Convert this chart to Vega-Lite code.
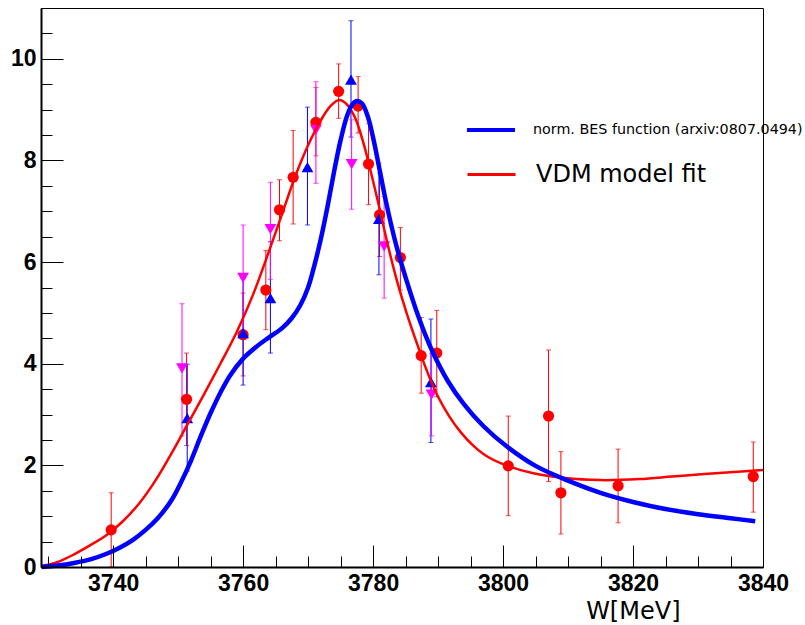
{
  "$schema": "https://vega.github.io/schema/vega-lite/v6.json",
  "width": 722,
  "height": 559,
  "autosize": {"type": "none"},
  "padding": {"left": 41, "top": 8, "right": 42, "bottom": 58},
  "background": "white",
  "config": {
    "view": {"stroke": "black", "strokeWidth": 1},
    "axis": {"grid": false, "labelFont": "Liberation Sans", "labelFontWeight": "bold", "labelFontSize": 23, "labelColor": "black", "tickColor": "black", "domainColor": "black"}
  },
  "datasets": {
    "red": [
      {"x": 3739.7, "y": 0.73, "lo": 0.0, "hi": 1.46},
      {"x": 3751.3, "y": 3.30, "lo": 2.39, "hi": 4.21},
      {"x": 3760.0, "y": 4.57, "lo": 3.76, "hi": 5.39},
      {"x": 3763.5, "y": 5.45, "lo": 4.67, "hi": 6.23},
      {"x": 3765.6, "y": 7.03, "lo": 6.42, "hi": 7.62},
      {"x": 3767.7, "y": 7.67, "lo": 6.75, "hi": 8.59},
      {"x": 3771.2, "y": 8.75, "lo": 8.09, "hi": 9.44},
      {"x": 3774.7, "y": 9.36, "lo": 8.83, "hi": 9.90},
      {"x": 3777.7, "y": 9.07, "lo": 8.54, "hi": 9.65},
      {"x": 3779.3, "y": 7.93, "lo": 7.13, "hi": 8.72},
      {"x": 3781.0, "y": 6.93, "lo": 6.11, "hi": 7.75},
      {"x": 3784.2, "y": 6.09, "lo": 5.45, "hi": 6.68},
      {"x": 3787.4, "y": 4.16, "lo": 3.42, "hi": 4.91},
      {"x": 3789.8, "y": 4.21, "lo": 3.35, "hi": 5.05},
      {"x": 3800.8, "y": 1.99, "lo": 1.01, "hi": 2.97},
      {"x": 3807.0, "y": 2.97, "lo": 1.68, "hi": 4.27},
      {"x": 3808.9, "y": 1.46, "lo": 0.65, "hi": 2.27},
      {"x": 3817.7, "y": 1.60, "lo": 0.87, "hi": 2.32},
      {"x": 3838.5, "y": 1.78, "lo": 1.08, "hi": 2.46}
    ],
    "blue": [
      {"x": 3751.4, "y": 2.93, "lo": 1.89, "hi": 3.99},
      {"x": 3760.0, "y": 4.60, "lo": 3.58, "hi": 5.68},
      {"x": 3764.2, "y": 5.29, "lo": 4.21, "hi": 6.40},
      {"x": 3769.9, "y": 7.87, "lo": 6.73, "hi": 9.05},
      {"x": 3776.6, "y": 9.59, "lo": 8.46, "hi": 10.75},
      {"x": 3780.9, "y": 6.85, "lo": 5.75, "hi": 7.95},
      {"x": 3788.9, "y": 3.64, "lo": 2.45, "hi": 4.88}
    ],
    "magenta": [
      {"x": 3750.6, "y": 3.91, "lo": 2.58, "hi": 5.18},
      {"x": 3760.0, "y": 5.69, "lo": 4.67, "hi": 6.73},
      {"x": 3764.2, "y": 6.65, "lo": 5.66, "hi": 7.57},
      {"x": 3771.2, "y": 8.60, "lo": 7.55, "hi": 9.55},
      {"x": 3776.7, "y": 7.93, "lo": 7.04, "hi": 8.80},
      {"x": 3781.7, "y": 6.31, "lo": 5.29, "hi": 7.29},
      {"x": 3789.0, "y": 3.39, "lo": 2.58, "hi": 4.20}
    ],
    "bes": [
      {"x": 3729.0, "y": 0.00}, {"x": 3731.5, "y": 0.03}, {"x": 3734.0, "y": 0.08}, {"x": 3736.5, "y": 0.15},
      {"x": 3739.0, "y": 0.26}, {"x": 3741.0, "y": 0.38}, {"x": 3743.0, "y": 0.53}, {"x": 3745.0, "y": 0.73},
      {"x": 3747.0, "y": 0.98}, {"x": 3749.0, "y": 1.32}, {"x": 3750.5, "y": 1.68}, {"x": 3752.0, "y": 2.10},
      {"x": 3753.5, "y": 2.58}, {"x": 3755.0, "y": 3.03}, {"x": 3756.5, "y": 3.43}, {"x": 3758.0, "y": 3.77},
      {"x": 3760.0, "y": 4.10}, {"x": 3762.0, "y": 4.33}, {"x": 3764.0, "y": 4.52}, {"x": 3766.0, "y": 4.70},
      {"x": 3767.5, "y": 4.90}, {"x": 3768.8, "y": 5.15}, {"x": 3770.0, "y": 5.50}, {"x": 3771.0, "y": 5.95},
      {"x": 3772.0, "y": 6.48}, {"x": 3773.0, "y": 7.10}, {"x": 3774.0, "y": 7.78}, {"x": 3775.0, "y": 8.40},
      {"x": 3776.0, "y": 8.88}, {"x": 3776.8, "y": 9.10}, {"x": 3777.5, "y": 9.17}, {"x": 3778.3, "y": 9.12},
      {"x": 3779.2, "y": 8.86}, {"x": 3780.0, "y": 8.45}, {"x": 3781.0, "y": 7.82}, {"x": 3782.0, "y": 7.18},
      {"x": 3783.5, "y": 6.36}, {"x": 3785.0, "y": 5.70}, {"x": 3787.0, "y": 4.92}, {"x": 3789.0, "y": 4.28},
      {"x": 3791.5, "y": 3.66}, {"x": 3794.0, "y": 3.20}, {"x": 3797.0, "y": 2.77}, {"x": 3800.5, "y": 2.38},
      {"x": 3805.0, "y": 1.99}, {"x": 3810.0, "y": 1.70}, {"x": 3815.0, "y": 1.46}, {"x": 3820.0, "y": 1.28},
      {"x": 3825.0, "y": 1.14}, {"x": 3830.0, "y": 1.04}, {"x": 3835.0, "y": 0.96}, {"x": 3838.8, "y": 0.90}
    ],
    "vdm": [
      {"x": 3729.0, "y": 0.02}, {"x": 3731.5, "y": 0.10}, {"x": 3734.0, "y": 0.25}, {"x": 3736.5, "y": 0.43},
      {"x": 3739.0, "y": 0.63}, {"x": 3741.5, "y": 0.90}, {"x": 3744.0, "y": 1.25}, {"x": 3746.5, "y": 1.70},
      {"x": 3749.0, "y": 2.24}, {"x": 3751.5, "y": 2.82}, {"x": 3754.0, "y": 3.40}, {"x": 3756.5, "y": 4.00},
      {"x": 3759.0, "y": 4.62}, {"x": 3761.5, "y": 5.35}, {"x": 3764.0, "y": 6.22}, {"x": 3766.0, "y": 6.95},
      {"x": 3768.0, "y": 7.68}, {"x": 3770.0, "y": 8.30}, {"x": 3772.0, "y": 8.80}, {"x": 3773.5, "y": 9.08},
      {"x": 3774.8, "y": 9.19}, {"x": 3776.0, "y": 9.10}, {"x": 3777.3, "y": 8.82}, {"x": 3778.5, "y": 8.35},
      {"x": 3779.8, "y": 7.70}, {"x": 3781.0, "y": 7.05}, {"x": 3782.3, "y": 6.32}, {"x": 3783.7, "y": 5.62},
      {"x": 3785.2, "y": 4.98}, {"x": 3786.8, "y": 4.38}, {"x": 3788.4, "y": 3.82}, {"x": 3790.0, "y": 3.35},
      {"x": 3791.7, "y": 2.97}, {"x": 3793.5, "y": 2.65}, {"x": 3795.5, "y": 2.38}, {"x": 3797.5, "y": 2.18},
      {"x": 3800.5, "y": 2.00}, {"x": 3804.5, "y": 1.85}, {"x": 3809.5, "y": 1.75}, {"x": 3815.0, "y": 1.71},
      {"x": 3821.0, "y": 1.73}, {"x": 3826.0, "y": 1.78}, {"x": 3831.0, "y": 1.83}, {"x": 3840.0, "y": 1.91}
    ]
  },
  "layer": [
    {
      "data": {"name": "red"},
      "mark": {"type": "errorbar", "color": "#ff0000", "thickness": 1, "ticks": {"size": 5, "thickness": 1}},
      "encoding": {
        "x": {"field": "x", "type": "quantitative", "scale": {"domain": [3728.9, 3840], "nice": false, "zero": false}, "axis": null},
        "y": {"field": "lo", "type": "quantitative", "scale": {"domain": [0, 11], "nice": false}, "axis": null, "title": null},
        "y2": {"field": "hi"}
      }
    },
    {
      "data": {"name": "blue"},
      "mark": {"type": "errorbar", "color": "#0000ff", "thickness": 1, "ticks": {"size": 5, "thickness": 1}},
      "encoding": {
        "x": {"field": "x", "type": "quantitative", "scale": {"domain": [3728.9, 3840], "nice": false, "zero": false}, "axis": null},
        "y": {"field": "lo", "type": "quantitative", "scale": {"domain": [0, 11], "nice": false}, "axis": null, "title": null},
        "y2": {"field": "hi"}
      }
    },
    {
      "data": {"name": "magenta"},
      "mark": {"type": "errorbar", "color": "#ff00ff", "thickness": 1, "ticks": {"size": 5, "thickness": 1}},
      "encoding": {
        "x": {"field": "x", "type": "quantitative", "scale": {"domain": [3728.9, 3840], "nice": false, "zero": false}, "axis": null},
        "y": {"field": "lo", "type": "quantitative", "scale": {"domain": [0, 11], "nice": false}, "axis": null, "title": null},
        "y2": {"field": "hi"}
      }
    },
    {
      "data": {"name": "red"},
      "mark": {"type": "point", "shape": "circle", "filled": true, "color": "#ff0000", "size": 125, "opacity": 1},
      "encoding": {
        "x": {"field": "x", "type": "quantitative", "scale": {"domain": [3728.9, 3840], "nice": false, "zero": false},
          "axis": {"orient": "bottom", "values": [3740, 3760, 3780, 3800, 3820, 3840], "format": "d", "tickSize": -22, "tickWidth": 1, "labelPadding": 27, "domainWidth": 2, "labelFlush": false, "labelOverlap": false,
            "title": "W[MeV]", "titleFont": "DejaVu Sans", "titleFontWeight": "normal", "titleFontSize": 24, "titleColor": "black", "titleAnchor": "end", "titleAlign": "right", "titleBaseline": "alphabetic", "titleX": 639, "titleY": 51, "zindex": 1}},
        "y": {"field": "y", "type": "quantitative", "scale": {"domain": [0, 11], "nice": false},
          "axis": {"orient": "left", "values": [0, 2, 4, 6, 8, 10], "tickSize": -22, "tickWidth": 1, "labelPadding": 27, "domainWidth": 2, "labelFlush": false, "labelOverlap": false, "title": null, "zindex": 1}}
      }
    },
    {
      "data": {"name": "blue"},
      "mark": {"type": "point", "shape": "triangle-up", "filled": true, "color": "#0000ff", "size": 140, "opacity": 1},
      "encoding": {
        "x": {"field": "x", "type": "quantitative", "scale": {"domain": [3728.9, 3840], "nice": false, "zero": false},
          "axis": {"orient": "bottom", "values": [3730, 3735, 3745, 3750, 3755, 3765, 3770, 3775, 3785, 3790, 3795, 3805, 3810, 3815, 3825, 3830, 3835], "tickSize": -11, "tickWidth": 1, "labels": false, "domain": false, "title": null, "zindex": 1}},
        "y": {"field": "y", "type": "quantitative", "scale": {"domain": [0, 11], "nice": false},
          "axis": {"orient": "left", "values": [0.5, 1, 1.5, 2.5, 3, 3.5, 4.5, 5, 5.5, 6.5, 7, 7.5, 8.5, 9, 9.5, 10.5], "tickSize": -11, "tickWidth": 1, "labels": false, "domain": false, "title": null, "zindex": 1}}
      }
    },
    {
      "data": {"name": "magenta"},
      "mark": {"type": "point", "shape": "triangle-down", "filled": true, "color": "#ff00ff", "size": 140, "opacity": 1},
      "encoding": {
        "x": {"field": "x", "type": "quantitative", "scale": {"domain": [3728.9, 3840], "nice": false, "zero": false}, "axis": null},
        "y": {"field": "y", "type": "quantitative", "scale": {"domain": [0, 11], "nice": false}, "axis": null}
      }
    },
    {
      "data": {"name": "vdm"},
      "mark": {"type": "line", "strokeWidth": 2.5, "interpolate": "catmull-rom"},
      "encoding": {
        "x": {"field": "x", "type": "quantitative", "scale": {"domain": [3728.9, 3840], "nice": false, "zero": false}, "axis": null},
        "y": {"field": "y", "type": "quantitative", "scale": {"domain": [0, 11], "nice": false}, "axis": null},
        "color": {"datum": "VDM model fit", "type": "nominal", "scale": {"domain": ["VDM model fit"], "range": ["#ff0000"]},
          "legend": {"orient": "none", "legendX": 425, "legendY": 141, "title": null, "padding": 0, "symbolType": "stroke", "symbolSize": 2304, "symbolStrokeWidth": 3, "labelFont": "DejaVu Sans", "labelFontSize": 24, "labelColor": "black", "labelOffset": 19, "labelLimit": 400}}
      }
    },
    {
      "data": {"name": "bes"},
      "mark": {"type": "line", "strokeWidth": 4.5, "interpolate": "catmull-rom"},
      "encoding": {
        "x": {"field": "x", "type": "quantitative", "scale": {"domain": [3728.9, 3840], "nice": false, "zero": false}, "axis": null},
        "y": {"field": "y", "type": "quantitative", "scale": {"domain": [0, 11], "nice": false}, "axis": null},
        "color": {"datum": "norm.  BES function (arxiv:0807.0494)", "type": "nominal", "scale": {"domain": ["norm.  BES function (arxiv:0807.0494)"], "range": ["#0000ff"]},
          "legend": {"orient": "none", "legendX": 424, "legendY": 96, "title": null, "padding": 0, "symbolType": "stroke", "symbolSize": 2304, "symbolStrokeWidth": 4, "labelFont": "DejaVu Sans", "labelFontSize": 14.3, "labelColor": "black", "labelOffset": 16, "labelLimit": 400}}
      }
    }
  ],
  "resolve": {"scale": {"color": "independent"}, "axis": {"x": "independent", "y": "independent"}}
}
